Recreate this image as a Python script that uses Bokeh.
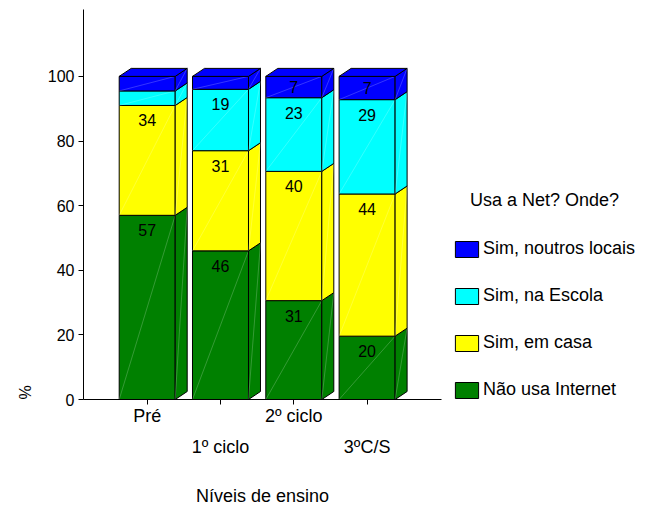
from bokeh.plotting import figure
from bokeh.models import (Range1d, FixedTicker, LinearAxis, Legend, LegendItem,
                          Label, ColumnDataSource, Title)
from bokeh.core.properties import value
from bokeh.embed import file_html
from bokeh.resources import INLINE

# ---------------- data ----------------
categories = ["Pré", "1º ciclo", "2º ciclo", "3ºC/S"]
nao_usa = [57, 46, 30.6, 19.6]      # Não usa Internet
em_casa = [34, 31, 40.0, 44]        # Sim, em casa
na_escola = [4.5, 19, 22.8, 29.2]   # Sim, na Escola
noutros = [4.5, 4, 6.6, 7.2]        # Sim, noutros locais
y_ticks = [0, 20, 40, 60, 80, 100]

series_names = ["Não usa Internet", "Sim, em casa", "Sim, na Escola", "Sim, noutros locais"]
series_values = [nao_usa, em_casa, na_escola, noutros]
series_colors = ["#008000", "#FFFF00", "#00FFFF", "#0000FF"]

FONT = "Liberation Sans"

# ---------------- figure ----------------
FW, FH = 557, 390
PX_PER_CAT = 73.3
x_start = -0.869
axis_end = 4.015
x_range = Range1d(x_start, x_start + FW / PX_PER_CAT)
y_range = Range1d(0, 120.7)
p = figure(frame_width=FW, frame_height=FH, x_range=x_range, y_range=y_range,
           output_backend="svg", toolbar_location=None,
           min_border_left=83, min_border_top=9, min_border_right=0, min_border_bottom=0)
p.grid.visible = False
p.outline_line_color = None
p.background_fill_color = "white"

px_x = PX_PER_CAT
px_y = FH / (y_range.end - y_range.start)
half_w = 28 / px_x          # half width of front face
dx = 12 / px_x              # depth offset (x)
dy = 8 / px_y               # depth offset (y)

xs = list(range(len(categories)))

legend_renderers = {}
bottoms = [0.0] * len(xs)
label_x, label_y, label_t = [], [], []
for name, vals, col in zip(series_names, series_values, series_colors):
    tops = [b + v for b, v in zip(bottoms, vals)]
    lefts = [x - half_w for x in xs]
    rights = [x + half_w for x in xs]
    src = ColumnDataSource(dict(left=lefts, right=rights, bottom=bottoms, top=tops))
    r = p.quad(left="left", right="right", bottom="bottom", top="top", source=src,
               fill_color=col, line_color="black", line_width=1)
    legend_renderers[name] = r
    p.segment(x0="left", y0="bottom", x1="right", y1="top", source=src,
              line_color="white", line_alpha=0.35, line_width=0.6)
    side_xs = [[rr, rr + dx, rr + dx, rr] for rr in rights]
    side_ys = [[b, b + dy, t + dy, t] for b, t in zip(bottoms, tops)]
    p.patches(side_xs, side_ys, fill_color=col, line_color="black", line_width=1)
    p.segment(x0=rights, y0=bottoms, x1=[rr + dx for rr in rights], y1=[t + dy for t in tops],
              line_color="white", line_alpha=0.35, line_width=0.6)
    for x, t, v in zip(xs, tops, vals):
        if v >= 6:
            label_x.append(x)
            label_y.append(t - min(15 / px_y, v / 2))
            label_t.append(f"{v:.0f}")
    bottoms = tops

top_xs = [[x - half_w, x - half_w + dx, x + half_w + dx, x + half_w] for x in xs]
top_ys = [[t, t + dy, t + dy, t] for t in bottoms]
p.patches(top_xs, top_ys, fill_color=series_colors[-1], line_color="black", line_width=1)

p.text(x=label_x, y=label_y, text=label_t, text_align="center", text_baseline="middle",
       text_font=value(FONT), text_font_size="16px", text_color="black")

# ---------------- axes ----------------
yax = p.yaxis[0]
yax.ticker = FixedTicker(ticks=y_ticks)
yax.minor_tick_line_color = None
yax.major_tick_out = 5
yax.major_tick_in = 0
yax.major_label_standoff = 4
yax.major_label_text_font = FONT
yax.major_label_text_font_size = "16px"
yax.major_label_text_color = "black"
yax.axis_line_color = "black"
yax.major_tick_line_color = "black"

xax = p.xaxis[0]
xax.bounds = (x_start, axis_end)
xax.ticker = FixedTicker(ticks=xs)
xax.major_label_overrides = {i: (c if i % 2 == 0 else "") for i, c in enumerate(categories)}
xax.minor_tick_line_color = None
xax.major_tick_out = 5
xax.major_tick_in = 0
xax.major_label_standoff = 1
xax.major_label_text_font = FONT
xax.major_label_text_font_size = "18px"
xax.major_label_text_color = "black"
xax.axis_line_color = "black"
xax.major_tick_line_color = "black"

xax2 = LinearAxis(ticker=FixedTicker(ticks=xs), bounds=(x_start, axis_end),
                  major_label_overrides={i: (c if i % 2 == 1 else "") for i, c in enumerate(categories)},
                  axis_line_color=None, major_tick_line_color=None, minor_tick_line_color=None,
                  major_tick_out=0, major_tick_in=0, major_label_standoff=8,
                  major_label_text_font=FONT, major_label_text_font_size="18px",
                  major_label_text_color="black")
p.add_layout(xax2, "below")

# axis title, centred under the axis line
title_pos = round((x_start + axis_end) / 2, 3)
xax3 = LinearAxis(ticker=FixedTicker(ticks=[title_pos]), bounds=(x_start, axis_end),
                  major_label_overrides={title_pos: "Níveis de ensino"},
                  axis_line_color=None, major_tick_line_color=None, minor_tick_line_color=None,
                  major_tick_out=0, major_tick_in=0, major_label_standoff=26,
                  major_label_text_font=FONT, major_label_text_font_size="18px",
                  major_label_text_color="black")
p.add_layout(xax3, "below")

p.add_layout(Title(text="%", align="left", text_font=FONT, text_font_size="16px",
                   text_font_style="normal", text_color="black", standoff=22), "left")

# ---------------- legend ----------------
items = [LegendItem(label=n, renderers=[legend_renderers[n]]) for n in reversed(series_names)]
legend = Legend(items=items, location=(369, -1), padding=0, margin=0, spacing=26,
                glyph_width=29, glyph_height=20, label_standoff=2, label_height=20,
                label_text_font=FONT, label_text_font_size="18px", label_text_color="black",
                border_line_color=None, background_fill_alpha=0)
p.add_layout(legend, "center")
p.add_layout(Label(x=461, y=200, x_units="screen", y_units="screen", text="Usa a Net? Onde?",
                   text_align="center", text_baseline="middle", text_font=FONT,
                   text_font_size="18px", text_color="black"))

open("out.html", "w").write(file_html(p, INLINE))
